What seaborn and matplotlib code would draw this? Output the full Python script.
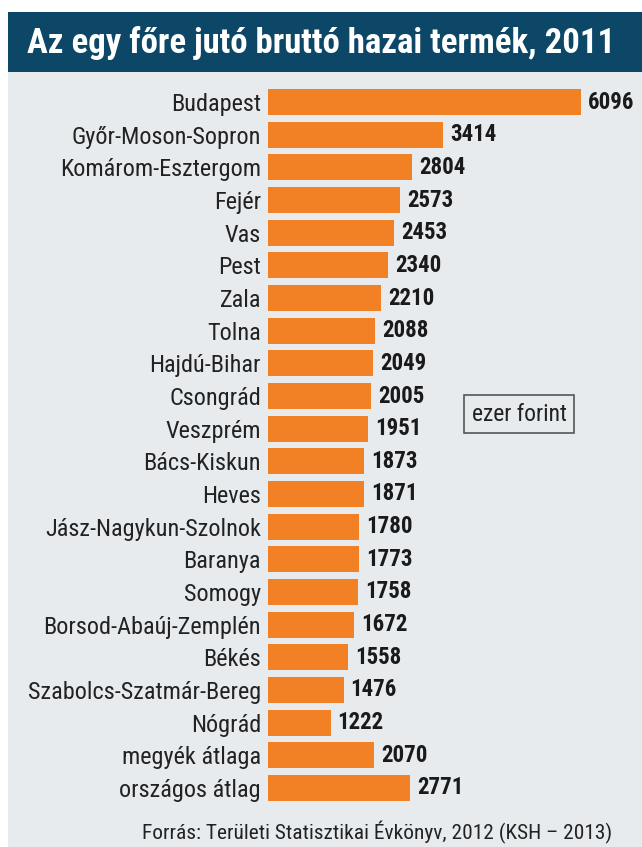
import matplotlib
matplotlib.use("Agg")
import matplotlib.pyplot as plt
import seaborn as sns
import pandas as pd
from matplotlib.patches import Rectangle

categories = ["Budapest", "Győr-Moson-Sopron", "Komárom-Esztergom", "Fejér", "Vas",
              "Pest", "Zala", "Tolna", "Hajdú-Bihar", "Csongrád", "Veszprém",
              "Bács-Kiskun", "Heves", "Jász-Nagykun-Szolnok", "Baranya", "Somogy",
              "Borsod-Abaúj-Zemplén", "Békés", "Szabolcs-Szatmár-Bereg", "Nógrád",
              "megyék átlaga", "országos átlag"]
values = [6096, 3414, 2804, 2573, 2453, 2340, 2210, 2088, 2049, 2005, 1951,
          1873, 1871, 1780, 1773, 1758, 1672, 1558, 1476, 1222, 2070, 2771]
title = "Az egy főre jutó bruttó hazai termék, 2011"
unit_label = "ezer forint"
source = "Forrás: Területi Statisztikai Évkönyv, 2012 (KSH – 2013)"

sns.set_theme(style="white")
FONT = ["Roboto Condensed", "DejaVu Sans"]
plt.rcParams["font.family"] = FONT

W, H = 642, 847
fig = plt.figure(figsize=(W / 100, H / 100), dpi=100)
fig.patch.set_facecolor("white")

BG = "#e7ebee"
TITLE_BG = "#0c4767"
ORANGE = "#f28024"

# background panel
fig.patches.append(Rectangle((8 / W, 0), 1 - 8 / W, 1 - 72 / H, transform=fig.transFigure,
                             facecolor=BG, edgecolor="none", zorder=-10))
# title bar
fig.patches.append(Rectangle((8 / W, 1 - 72 / H), 1 - 8 / W, 60 / H, transform=fig.transFigure,
                             facecolor=TITLE_BG, edgecolor="none", zorder=-10))
fig.text(321 / W, 1 - 43 / H, title, color="white", fontsize=25, fontweight="bold",
         ha="center", va="center", family=FONT)

# axes
left, right = 268, 642
top, bottom = 85.7, 804.3
ax = fig.add_axes([left / W, 1 - bottom / H, (right - left) / W, (bottom - top) / H])
ax.set_facecolor("none")

df = pd.DataFrame({"cat": categories, "val": values})
sns.barplot(data=df, y="cat", x="val", orient="h", color=ORANGE, saturation=1,
            width=0.8, linewidth=0, ax=ax)
ax.set_xlim(0, (right - left) / 0.0513)
ax.set_ylim(len(categories) - 0.5, -0.5)
for s in ax.spines.values():
    s.set_visible(False)
ax.set_xticks([])
ax.set_xlabel("")
ax.set_ylabel("")
ax.tick_params(axis="y", length=0, pad=5, labelsize=17.5, labelcolor="#222222")
for lab in ax.get_yticklabels():
    lab.set_family(FONT)

ax.bar_label(ax.containers[0], labels=[str(v) for v in values], padding=5,
             fontsize=16.5, fontweight="bold", color="#1a1a1a", family=FONT)

# unit box
fig.text(519 / W, 1 - 414 / H, unit_label, ha="center", va="center", fontsize=17,
         color="#222222", family=FONT,
         bbox=dict(boxstyle="square,pad=0.3", facecolor="none", edgecolor="#555555", lw=1.2))

fig.text(612 / W, 1 - 832 / H, source, ha="right", va="center", fontsize=15.4,
         color="#222222", family=FONT)

fig.savefig("out.png", dpi=100, facecolor=fig.get_facecolor())
